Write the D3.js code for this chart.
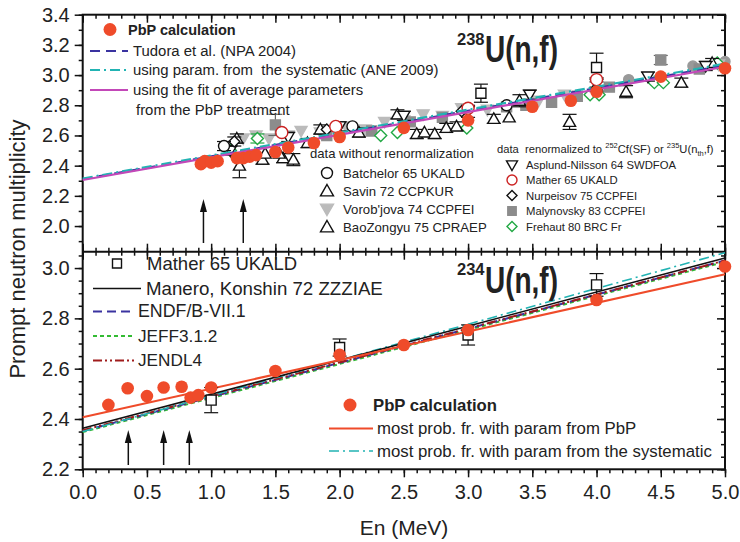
<!DOCTYPE html>
<html>
<head>
<meta charset="utf-8">
<script src="https://cdn.jsdelivr.net/npm/d3@7"></script>
<style>
body { margin: 0; background: #fff; }
text { font-family: Arial, "Liberation Sans", sans-serif; fill: #222; white-space: pre; }
</style>
</head>
<body>
<div id="chart"></div>
<script>
// ---- values: [En, nu, err] ----
var pbp238 = [[0.92,2.41],[0.95,2.43],[1.0,2.42],[1.05,2.43],[1.2,2.45],[1.25,2.45],[1.3,2.46],[1.35,2.47],
    [1.5,2.49],[1.6,2.52],[1.8,2.55],[2.0,2.59],[2.5,2.65],[3.0,2.70],[3.5,2.79],[3.8,2.83],[4.0,2.89],[4.5,2.99],[5.0,3.045]];
var batchelor = [[1.1,2.53,0.03],[2.1,2.66,0],[3.3,2.8,0]];
var batchelorSq = [[3.1,2.88,0.06],[4.0,3.05,0.095]];
var savin = [[1.22,2.40,0.08],[1.4,2.44,0.03],[1.56,2.45,0.03],[1.64,2.44,0.04],[1.42,2.48,0],[1.53,2.48,0],
    [1.75,2.55,0.03],[2.15,2.62,0.03],[2.6,2.61,0.03],[2.66,2.62,0],[2.74,2.61,0.03],[2.83,2.65,0.03],
    [2.91,2.66,0.03],[3.2,2.71,0.03],[3.32,2.72,0],[3.79,2.69,0.05],[4.23,2.89,0.04],[4.66,2.95,0.03]];
var vorobjova = [[1.25,2.58,0],[1.35,2.6,0],[1.45,2.58,0],[1.6,2.6,0],[1.7,2.63,0],[1.85,2.62,0],[2.05,2.66,0],
    [2.2,2.64,0],[2.35,2.69,0],[2.5,2.7,0],[2.65,2.74,0],[2.8,2.73,0],[2.95,2.78,0],[3.15,2.77,0],
    [3.55,2.83,0],[3.75,2.87,0],[4.95,3.07,0]];
var baoZongyu = [[1.2,2.58,0.03],[1.85,2.64,0.03],[2.45,2.74,0.03],[3.4,2.83,0.04],[4.0,2.93,0.04],[4.9,3.08,0.03]];
var asplund = [[1.15,2.5,0.03],[1.6,2.59,0.03],[2.0,2.66,0.03],[2.5,2.73,0.03],[3.0,2.76,0.04],[3.48,2.87,0.03],
    [4.0,2.95,0.03],[4.4,2.99,0.03],[4.85,3.06,0.03]];
var mather238 = [[1.55,2.62,0],[1.97,2.66,0],[3.0,2.78,0],[4.0,2.97,0]];
var nurpeisov = [[1.18,2.56,0.03],[1.9,2.64,0],[2.95,2.76,0]];
var malynovsky = [[1.5,2.67,0.07],[1.9,2.6,0],[2.25,2.63,0],[2.55,2.69,0],[2.8,2.72,0],[3.3,2.79,0],[3.45,2.8,0],
    [3.65,2.82,0],[3.85,2.86,0],[4.1,2.92,0],[4.5,3.1,0.03],[4.8,3.04,0]];
var frehaut = [[1.15,2.5,0],[1.36,2.58,0.03],[2.32,2.60,0],[2.45,2.62,0],[2.99,2.65,0],[3.95,2.87,0],[4.02,2.87,0],
    [4.45,2.95,0],[4.52,2.95,0],[4.94,3.08,0]];
var grayCirc = [[4.25,2.97],[4.75,3.06],[5.0,3.09]];

var tudora = [[0,2.31],[5,3.065]];
var systematic238 = [[0,2.315],[5,3.075]];
var avgFit238 = [[0,2.305],[5,3.055]];

var pbp234 = [[0.2,2.456],[0.35,2.522],[0.5,2.491],[0.63,2.525],[0.77,2.528],[0.84,2.485],[0.9,2.495],[1.0,2.525],
    [1.5,2.591],[2.0,2.655],[2.5,2.694],[3.0,2.754],[4.0,2.873],[5.0,3.006]];
var mather234 = [[1.0,2.475,0.05],[2.0,2.684,0.034],[3.0,2.734,0.04],[4.0,2.933,0.045]];
var manero = [[0,2.363],[5,3.04]];
var endf = [[0,2.352],[5,3.03]];
var jeff = [[0,2.348],[5,3.025]];
var jendl = [[0,2.355],[5,3.03]];
var mostProbPbP = [[0,2.407],[5,2.975]];
var mostProbSys = [[0,2.35],[5,3.061]];

var arrowsTop = [0.94, 1.25];
var arrowsBot = [0.355, 0.63, 0.83];

var xMajor = [0,0.5,1,1.5,2,2.5,3,3.5,4,4.5,5];
var yTopMajor = [2.0,2.2,2.4,2.6,2.8,3.0,3.2,3.4];
var yBotMajor = [2.2,2.4,2.6,2.8,3.0];

var width = 740, height = 542;
var L = 82.7, R = 725, T = 14.7, M = 251.7, B = 469.3;
var red = '#ef4b2a', cyan = '#22b3b3', navy = '#3a33a0', magenta = '#c348b8', gray = '#8c8c8c';

var x = d3.scaleLinear().domain([0, 5]).range([L, R]);
var yTop = d3.scaleLinear().domain([1.83, 3.4]).range([M, T]);
var yBot = d3.scaleLinear().domain([2.2, 3.065]).range([B, M]);

var svg = d3.select('#chart').append('svg')
    .attr('width', width).attr('height', height)
    .style('background', '#fff');

// minor tick lists
var xMinor = d3.range(0, 5.001, 0.1).map(function(d) { return +d.toFixed(2); });
var yTopMinor = d3.range(1.9, 3.401, 0.1).map(function(d) { return +d.toFixed(2); });
var yBotMinor = d3.range(2.2, 3.051, 0.05).map(function(d) { return +d.toFixed(2); });

function styleAxis(g) {
    g.select('.domain').remove();
    g.selectAll('line').attr('stroke', '#111').attr('stroke-width', 1.5);
    g.selectAll('text').style('font-size', '20px').attr('fill', '#222')
        .style('font-family', 'Arial, "Liberation Sans", sans-serif');
}
function addAxis(axis, tx, ty) {
    svg.append('g').attr('transform', 'translate(' + tx + ',' + ty + ')').call(axis).call(styleAxis);
}
var fmt = d3.format('.1f');

// left axes (outward), with labels
addAxis(d3.axisLeft(yTop).tickValues(yTopMinor).tickSize(4).tickFormat(''), L, 0);
addAxis(d3.axisLeft(yTop).tickValues(yTopMajor).tickSize(8).tickPadding(5).tickFormat(fmt), L, 0);
addAxis(d3.axisLeft(yBot).tickValues(yBotMinor).tickSize(4).tickFormat(''), L, 0);
addAxis(d3.axisLeft(yBot).tickValues(yBotMajor).tickSize(8).tickPadding(5).tickFormat(fmt), L, 0);
// right axes (inward)
addAxis(d3.axisLeft(yTop).tickValues(yTopMinor).tickSize(4).tickFormat(''), R, 0);
addAxis(d3.axisLeft(yTop).tickValues(yTopMajor).tickSize(8).tickFormat(''), R, 0);
addAxis(d3.axisLeft(yBot).tickValues(yBotMinor).tickSize(4).tickFormat(''), R, 0);
addAxis(d3.axisLeft(yBot).tickValues(yBotMajor).tickSize(8).tickFormat(''), R, 0);
// top axis (inward)
addAxis(d3.axisBottom(x).tickValues(xMinor).tickSize(4).tickFormat(''), 0, T);
addAxis(d3.axisBottom(x).tickValues(xMajor).tickSize(8).tickFormat(''), 0, T);
// shared middle line, ticks both ways
addAxis(d3.axisBottom(x).tickValues(xMinor).tickSize(4).tickFormat(''), 0, M);
addAxis(d3.axisBottom(x).tickValues(xMajor).tickSize(8).tickFormat(''), 0, M);
addAxis(d3.axisTop(x).tickValues(xMinor).tickSize(4).tickFormat(''), 0, M);
addAxis(d3.axisTop(x).tickValues(xMajor).tickSize(8).tickFormat(''), 0, M);
// bottom axis (outward) with labels
addAxis(d3.axisBottom(x).tickValues(xMinor).tickSize(4).tickFormat(''), 0, B);
addAxis(d3.axisBottom(x).tickValues(xMajor).tickSize(8).tickPadding(8).tickFormat(fmt), 0, B);

// frame
svg.append('rect').attr('x', L).attr('y', T).attr('width', R - L).attr('height', B - T)
    .attr('fill', 'none').attr('stroke', '#111').attr('stroke-width', 2);
svg.append('line').attr('x1', L).attr('x2', R).attr('y1', M).attr('y2', M)
    .attr('stroke', '#111').attr('stroke-width', 2);

// axis titles
svg.append('text').attr('transform', 'translate(25,249) rotate(-90)')
    .attr('text-anchor', 'middle').style('font-size', '22px').text('Prompt neutron multiplicity');
svg.append('text').attr('x', 404).attr('y', 535).attr('text-anchor', 'middle')
    .style('font-size', '21px').text('En (MeV)');

// symbol paths centred on 0,0
function shape(type, s) {
    if (type === 'circle') return d3.symbol(d3.symbolCircle, Math.PI * s * s)();
    if (type === 'up') return 'M0,' + (-s) + 'L' + s + ',' + (s * 0.75) + 'L' + (-s) + ',' + (s * 0.75) + 'Z';
    if (type === 'down') return 'M0,' + s + 'L' + s + ',' + (-s * 0.75) + 'L' + (-s) + ',' + (-s * 0.75) + 'Z';
    if (type === 'diamond') return 'M0,' + (-s) + 'L' + s + ',0L0,' + s + 'L' + (-s) + ',0Z';
    if (type === 'square') return 'M' + (-s) + ',' + (-s) + 'h' + 2 * s + 'v' + 2 * s + 'h' + (-2 * s) + 'Z';
}

function drawPoints(y, data, type, s, fill, stroke, barColor) {
    var g = svg.append('g');
    data.forEach(function(d) {
        if (d[2]) {
            var cx = x(d[0]), y0 = y(d[1] - d[2]), y1 = y(d[1] + d[2]);
            g.append('line').attr('x1', cx).attr('x2', cx).attr('y1', y0).attr('y2', y1)
                .attr('stroke', barColor).attr('stroke-width', 1.2);
            [y0, y1].forEach(function(yy) {
                g.append('line').attr('x1', cx - 7).attr('x2', cx + 7).attr('y1', yy).attr('y2', yy)
                    .attr('stroke', barColor).attr('stroke-width', 1.2);
            });
        }
    });
    g.selectAll('path').data(data).enter().append('path')
        .attr('d', shape(type, s))
        .attr('transform', function(d) { return 'translate(' + x(d[0]) + ',' + y(d[1]) + ')'; })
        .attr('fill', fill).attr('stroke', stroke).attr('stroke-width', 1.4);
}

function drawLine(y, data, color, dash, w) {
    svg.append('path').datum(data)
        .attr('d', d3.line().x(function(d) { return x(d[0]); }).y(function(d) { return y(d[1]); }))
        .attr('fill', 'none').attr('stroke', color).attr('stroke-width', w || 2)
        .attr('stroke-dasharray', dash || null);
}

function drawArrow(xv, yFrom, yTo) {
    var cx = x(xv);
    svg.append('line').attr('x1', cx).attr('x2', cx).attr('y1', yFrom).attr('y2', yTo + 8)
        .attr('stroke', '#111').attr('stroke-width', 1.5);
    svg.append('path').attr('d', 'M' + cx + ',' + yTo + 'l-3.5,13h7z').attr('fill', '#111');
}

// ---- top panel: 238U ----
drawPoints(yTop, grayCirc, 'circle', 5, '#999', '#999', '#999');
drawPoints(yTop, vorobjova, 'down', 6, '#bbb', '#bbb', '#999');
drawPoints(yTop, malynovsky, 'square', 5, gray, gray, '#666');
drawPoints(yTop, frehaut, 'diamond', 6, '#fff', '#22a844', '#22a844');
drawPoints(yTop, savin, 'up', 6, '#fff', '#111', '#111');
drawPoints(yTop, baoZongyu, 'up', 6, '#fff', '#111', '#111');
drawPoints(yTop, asplund, 'down', 6, '#fff', '#111', '#111');
drawPoints(yTop, nurpeisov, 'diamond', 5.5, '#fff', '#111', '#111');
drawPoints(yTop, batchelor, 'circle', 5.5, '#fff', '#111', '#111');
drawPoints(yTop, batchelorSq, 'square', 5, '#fff', '#111', '#111');
drawPoints(yTop, mather238, 'circle', 6, '#fff', '#c22', '#c22');

drawLine(yTop, tudora, navy, '10,6', 2.2);
drawLine(yTop, systematic238, cyan, '10,4,2,4', 2.2);
drawLine(yTop, avgFit238, magenta, null, 2.2);
drawPoints(yTop, pbp238, 'circle', 6.3, red, 'none', red);

arrowsTop.forEach(function(e) { drawArrow(e, 243, 199); });

// ---- bottom panel: 234U ----
drawLine(yBot, jeff, '#33bb33', '4,3', 2);
drawLine(yBot, endf, navy, '9,5', 2);
drawLine(yBot, jendl, '#a01c1c', '9,3,2,3,2,3', 2);
drawLine(yBot, mostProbSys, cyan, '10,4,2,4', 1.6);
drawLine(yBot, manero, '#111', null, 1.6);
drawLine(yBot, mostProbPbP, red, null, 2);
drawPoints(yBot, mather234, 'square', 5, '#fff', '#111', '#111');
drawPoints(yBot, pbp234, 'circle', 6.3, red, 'none', red);

arrowsBot.forEach(function(e) { drawArrow(e, 465, 430); });

// ---- isotope titles ----
svg.append('text').attr('x', 457).attr('y', 45).style('font-size', '16.5px').style('font-weight', 'bold').text('238');
svg.append('text').attr('x', 485).attr('y', 62).style('font-size', '37px').style('font-weight', 'bold')
    .attr('textLength', 73).attr('lengthAdjust', 'spacingAndGlyphs').text('U(n,f)');
svg.append('text').attr('x', 457).attr('y', 275).style('font-size', '16.5px').style('font-weight', 'bold').text('234');
svg.append('text').attr('x', 485).attr('y', 293).style('font-size', '37px').style('font-weight', 'bold')
    .attr('textLength', 73).attr('lengthAdjust', 'spacingAndGlyphs').text('U(n,f)');

// ---- legends ----
function legText(xp, yp, str, size, bold) {
    return svg.append('text').attr('x', xp).attr('y', yp).style('font-size', size + 'px')
        .style('font-weight', bold ? 'bold' : 'normal').text(str);
}
function legLine(x1, x2, yp, color, dash, w) {
    svg.append('line').attr('x1', x1).attr('x2', x2).attr('y1', yp).attr('y2', yp)
        .attr('stroke', color).attr('stroke-width', w || 2).attr('stroke-dasharray', dash || null);
}
function legSym(xp, yp, type, s, fill, stroke) {
    svg.append('path').attr('d', shape(type, s)).attr('transform', 'translate(' + xp + ',' + yp + ')')
        .attr('fill', fill).attr('stroke', stroke).attr('stroke-width', 1.4);
}

// top-left legend
legSym(110, 29.5, 'circle', 6.5, red, 'none');
legText(128, 35, 'PbP calculation', 14.5, true);
legLine(90, 128, 51, navy, '10,6', 2.2);
legText(133, 56, 'Tudora et al. (NPA 2004)', 14.9);
legLine(90, 128, 70, cyan, '10,4,2,4', 2.2);
legText(133, 75, 'using param. from  the systematic (ANE 2009)', 14.9);
legLine(90, 128, 90, magenta, null, 2.2);
legText(133, 95, 'using the fit of average parameters', 14.9);
legText(136, 115, 'from the PbP treatment', 14.9);

// middle legend, data without renormalization
legText(310, 158, 'data without renormalization', 13.1);
legSym(327, 173, 'circle', 5.5, '#fff', '#111');
legText(343, 177.5, 'Batchelor 65 UKALD', 13.2);
legSym(327, 191, 'up', 6.5, '#fff', '#111');
legText(343, 195.5, 'Savin 72 CCPKUR', 13.2);
legSym(327, 209, 'down', 6.5, '#bbb', '#bbb');
legText(343, 213.5, "Vorob'jova 74 CCPFEI", 13.2);
legSym(327, 227, 'up', 6.5, '#fff', '#111');
legText(343, 231.5, 'BaoZongyu 75 CPRAEP', 13.2);

// right legend, renormalized data
var rt = legText(497, 153, 'data  renormalized to ', 11.2);
rt.append('tspan').attr('dy', -5).style('font-size', '7.5px').text('252');
rt.append('tspan').attr('dy', 5).text('Cf(SF) or ');
rt.append('tspan').attr('dy', -5).style('font-size', '7.5px').text('235');
rt.append('tspan').attr('dy', 5).text('U(n');
rt.append('tspan').attr('dy', 3).style('font-size', '7.5px').text('th');
rt.append('tspan').attr('dy', -3).text(',f)');
legSym(512, 165, 'down', 5.5, '#fff', '#111');
legText(526, 168.5, 'Asplund-Nilsson 64 SWDFOA', 11.3);
legSym(512, 180, 'circle', 5, '#fff', '#c22');
legText(526, 184, 'Mather 65 UKALD', 11.3);
legSym(512, 195.5, 'diamond', 5, '#fff', '#111');
legText(526, 199.5, 'Nurpeisov 75 CCPFEI', 11.3);
legSym(512, 211, 'square', 4.2, gray, gray);
legText(526, 215, 'Malynovsky 83 CCPFEI', 11.3);
legSym(512, 226.5, 'diamond', 5, '#fff', '#22a844');
legText(526, 230.5, 'Frehaut 80 BRC Fr', 11.3);

// bottom-left legend
legSym(117, 263.5, 'square', 4.5, '#fff', '#111');
legText(147, 269.5, 'Mather 65 UKALD', 18.5);
legLine(93, 141, 288.5, '#111', null, 1.6);
legText(146, 295, 'Manero, Konshin 72 ZZZIAE', 18.7);
legLine(93, 135, 311.5, navy, '9,5', 2);
legText(138, 317, 'ENDF/B-VII.1', 17.8);
legLine(93, 135, 336, '#33bb33', '4,3', 2);
legText(138, 341.5, 'JEFF3.1.2', 17.2);
legLine(93, 135, 360.5, '#a01c1c', '9,3,2,3,2,3', 2);
legText(138, 366, 'JENDL4', 17.2);

// bottom-right legend
legSym(350, 405, 'circle', 6.5, red, 'none');
legText(373, 411, 'PbP calculation', 16.7, true);
legLine(329, 373, 428.5, red, null, 2);
legText(377, 433.5, 'most prob. fr. with param from PbP', 16.8);
legLine(329, 373, 451, cyan, '10,4,2,4', 1.6);
legText(377, 456.5, 'most prob. fr. with param from the systematic', 16.8);
</script>
</body>
</html>
